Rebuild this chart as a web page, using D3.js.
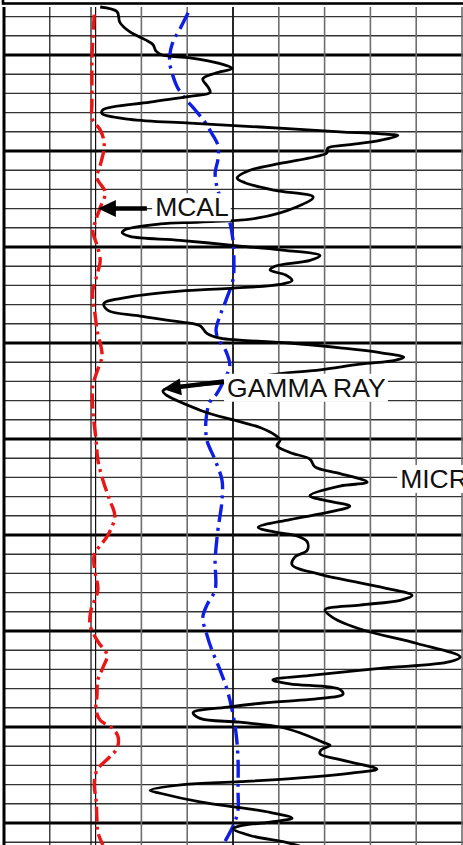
<!DOCTYPE html>
<html>
<head>
<meta charset="utf-8">
<script src="https://cdn.jsdelivr.net/npm/d3@7"></script>
<style>
  html, body { margin: 0; padding: 0; background: #fff; overflow: hidden; }
  svg { display: block; }
</style>
</head>
<body>
<div id="d3-container"></div>
<script>
const width = 463,
  height = 845;

/* DATA (depth in ft, curve value in % of track width) */
const microDepth = [4995.0, 4995.5, 4996.6, 4997.6, 4998.4, 4998.9, 4999.6, 5000.0, 5000.3, 5000.9,
  5001.4, 5001.9, 5002.5, 5003.3, 5003.9, 5004.3, 5004.9, 5005.7, 5006.1, 5006.7,
  5007.1, 5007.5, 5008.0, 5008.2, 5008.4, 5008.9, 5009.4, 5009.7, 5010.2, 5010.6,
  5011.3, 5012.0, 5012.8, 5013.3, 5014.1, 5014.8, 5015.8, 5017.0, 5017.4, 5017.6,
  5018.2, 5018.5, 5018.9, 5019.3, 5019.9, 5020.3, 5020.9, 5021.4, 5022.0, 5022.4,
  5022.9, 5023.5, 5023.9, 5024.3, 5024.6, 5025.2, 5025.9, 5026.6, 5027.2, 5027.8,
  5028.2, 5029.0, 5029.5, 5029.7, 5030.0, 5030.5, 5031.0, 5031.5, 5031.8, 5032.2,
  5032.8, 5033.2, 5034.1, 5035.0, 5037.0, 5038.2, 5038.8, 5039.6, 5040.1, 5040.7,
  5041.4, 5042.1, 5042.9, 5043.6, 5044.5, 5044.9, 5045.9, 5046.5, 5047.0, 5047.6,
  5048.4, 5049.2, 5049.7, 5050.1, 5050.7, 5051.6, 5052.3, 5053.1, 5054.1, 5055.2,
  5056.3, 5056.8, 5057.3, 5057.8, 5058.6, 5059.9, 5061.3, 5062.7, 5063.2, 5063.9,
  5064.6, 5065.1, 5065.5, 5066.1, 5066.6, 5067.0, 5067.5, 5067.9, 5068.5, 5069.1,
  5069.5, 5070.0, 5070.6, 5071.6, 5071.9, 5072.4, 5072.8, 5073.4, 5074.4, 5074.7,
  5075.3, 5075.7, 5076.0, 5076.6, 5076.9, 5077.8, 5078.4, 5078.9, 5079.5, 5079.9,
  5080.3, 5080.6, 5081.3, 5082.0, 5082.4];
const microValues = [21.0, 24.7, 25.3, 27.5, 30.8, 32.5, 33.2, 34.5, 40.6, 47.2,
  49.8, 46.1, 43.4, 44.5, 45.0, 40.6, 31.9, 21.6, 21.4, 27.5,
  40.6, 55.9, 73.4, 81.7, 86.0, 82.1, 74.5, 70.7, 70.5, 67.9,
  60.3, 53.7, 50.9, 52.6, 59.2, 67.5, 64.0, 55.2, 42.8, 34.1,
  26.4, 25.8, 27.5, 38.4, 51.5, 60.3, 69.0, 66.8, 59.2, 58.1,
  61.4, 62.9, 60.3, 49.3, 38.4, 27.5, 21.8, 22.7, 29.7, 38.4,
  42.8, 44.3, 47.2, 51.5, 62.4, 73.4, 82.1, 87.3, 85.4, 77.7,
  69.0, 60.3, 48.5, 34.7, 42.8, 51.5, 55.9, 59.2, 60.3, 59.6,
  62.4, 66.8, 67.9, 73.4, 79.3, 73.4, 66.8, 71.2, 75.5, 71.2,
  62.4, 55.5, 59.2, 64.0, 66.2, 66.2, 63.5, 62.9, 69.0, 79.9,
  89.1, 86.5, 77.7, 70.1, 71.8, 78.4, 90.2, 99.6, 97.4, 82.1,
  67.5, 58.7, 62.4, 73.4, 74.0, 69.7, 56.6, 49.3, 41.3, 42.8,
  51.5, 60.3, 64.6, 69.7, 71.2, 69.2, 69.0, 73.4, 81.4, 77.7,
  64.6, 51.5, 39.1, 31.9, 34.1, 42.8, 51.5, 58.1, 62.9, 58.1,
  51.5, 50.0, 53.7, 61.4, 64.6];

const gammaDepth = [4995.6, 4997.3, 4998.6, 5000.0, 5000.9, 5002.2, 5003.3, 5004.5, 5005.7, 5007.0,
  5008.2, 5009.4, 5010.9, 5012.3, 5014.1, 5015.6, 5017.4, 5019.3, 5021.4, 5023.4,
  5025.5, 5027.1, 5028.6, 5029.5, 5030.9, 5032.4, 5033.9, 5035.4, 5036.1, 5038.0,
  5040.1, 5042.2, 5044.3, 5046.4, 5047.9, 5049.5, 5052.6, 5055.7, 5057.3, 5058.6,
  5060.4, 5062.0, 5064.1, 5066.1, 5068.2, 5070.8, 5073.4, 5076.6, 5078.6, 5079.9,
  5081.0, 5082.3];
const gammaValues = [40.2, 38.4, 36.9, 36.2, 36.2, 36.9, 37.8, 39.5, 41.7, 43.9,
  45.4, 46.7, 46.7, 46.1, 46.7, 48.0, 49.3, 50.0, 50.2, 50.0,
  48.5, 47.2, 46.3, 46.7, 48.5, 49.3, 48.0, 46.3, 45.0, 44.1,
  44.3, 46.1, 47.6, 47.6, 47.2, 46.7, 46.1, 46.1, 44.3, 43.4,
  44.3, 45.4, 47.2, 48.7, 49.8, 50.7, 51.1, 51.1, 51.1, 50.4,
  49.3, 47.8];

const mcalDepth = [4995.8, 4998.4, 5000.5, 5002.6, 5005.2, 5006.6, 5007.8, 5008.9, 5009.9, 5011.5,
  5012.8, 5014.3, 5015.9, 5017.4, 5018.4, 5019.8, 5021.4, 5022.9, 5024.5, 5025.5,
  5027.1, 5028.6, 5031.3, 5033.0, 5034.4, 5037.0, 5040.1, 5042.2, 5044.3, 5046.4,
  5048.0, 5050.0, 5052.1, 5053.9, 5055.7, 5057.8, 5059.4, 5061.1, 5062.5, 5063.8,
  5065.1, 5066.7, 5068.2, 5069.3, 5070.1, 5071.0, 5072.2, 5073.1, 5074.5, 5076.0,
  5077.6, 5079.7, 5081.0, 5082.3];
const mcalValues = [19.7, 19.4, 19.2, 19.2, 19.2, 19.2, 21.0, 21.8, 21.8, 21.0,
  20.3, 22.1, 21.0, 19.9, 19.4, 20.3, 21.0, 20.3, 19.4, 19.4,
  19.9, 20.3, 21.4, 20.3, 19.4, 19.4, 20.1, 20.5, 21.6, 23.1,
  24.2, 22.7, 19.7, 19.9, 20.5, 19.0, 18.8, 20.5, 22.5, 21.6,
  20.5, 20.3, 20.1, 21.0, 23.6, 24.9, 24.7, 23.1, 20.3, 19.7,
  20.1, 20.3, 20.5, 21.6];

/* curve labels: name, text anchor (value, depth), arrow tail and tip */
const labelNames = ["MCAL", "GAMMA RAY", "MICR"];
const labelValue = [33.0, 48.7, 86.5];
const labelDepth = [5016.8, 5035.6, 5045.1];
const arrowFrom = [[31.2, 5016.0], [48.0, 5034.0], null];
const arrowTo = [[20.5, 5016.0], [34.7, 5034.8], null];

/* SCALES */
const xScale = d3.scaleLinear().domain([0, 100]).range([4, 462]);
const yScale = d3.scaleLinear().domain([4994, 5082]).range([-2.6, 842.2]);

const svg = d3
  .select("#d3-container")
  .append("svg")
  .attr("width", width)
  .attr("height", height);

// header box edge at the top
svg
  .append("rect")
  .attr("x", 3)
  .attr("y", -10)
  .attr("width", width + 10)
  .attr("height", 13.5)
  .attr("fill", "none")
  .attr("stroke", "#000")
  .attr("stroke-width", 2.6);

/* GRID */
const gridTop = yScale(4995);
const grid = svg.append("g").attr("class", "grid");

const hLines = d3.range(4996, 5083, 2);
grid
  .selectAll(".h-line")
  .data(hLines)
  .join("line")
  .attr("class", "h-line")
  .attr("x1", xScale(0))
  .attr("x2", width)
  .attr("y1", d => yScale(d))
  .attr("y2", d => yScale(d))
  .attr("stroke", d => (d % 10 === 0 ? "#000" : "#333"))
  .attr("stroke-width", d => (d % 10 === 0 ? 3 : 1.4));

const vLines = d3.range(10, 101, 10).concat([19]);
grid
  .selectAll(".v-line")
  .data(vLines)
  .join("line")
  .attr("class", "v-line")
  .attr("x1", d => xScale(d))
  .attr("x2", d => xScale(d))
  .attr("y1", gridTop)
  .attr("y2", height)
  .attr("stroke", d => (d <= 20 || d === 50 ? "#111" : "#6e6e6e"))
  .attr("stroke-width", d => (d === 50 ? 1.8 : d <= 20 ? 1.2 : 1.6));

// left border of track
grid
  .append("line")
  .attr("x1", xScale(0))
  .attr("x2", xScale(0))
  .attr("y1", gridTop)
  .attr("y2", height)
  .attr("stroke", "#000")
  .attr("stroke-width", 3);

/* CURVES */
const line = d3
  .line()
  .x(d => xScale(d[1]))
  .y(d => yScale(d[0]))
  .curve(d3.curveCatmullRom.alpha(0.5));

const curves = [
  { name: "MCAL", depth: mcalDepth, values: mcalValues, color: "#ea1515", width: 3.4, dash: "15,5,3,5" },
  { name: "GAMMA RAY", depth: gammaDepth, values: gammaValues, color: "#0f1ee6", width: 3.4, dash: "18,6,3,6" },
  { name: "MICRO", depth: microDepth, values: microValues, color: "#000", width: 2.8, dash: null }
];

svg
  .selectAll(".curve")
  .data(curves)
  .join("path")
  .attr("class", "curve")
  .attr("d", c => line(d3.zip(c.depth, c.values)))
  .attr("fill", "none")
  .attr("stroke", c => c.color)
  .attr("stroke-width", c => c.width)
  .attr("stroke-dasharray", c => c.dash)
  .attr("stroke-linejoin", "round");

/* LABELS */
labelNames.forEach((name, i) => {
  const g = svg.append("g").attr("class", "label");
  const rect = g.append("rect").attr("fill", "#fff");
  const text = g
    .append("text")
    .attr("x", xScale(labelValue[i]))
    .attr("y", yScale(labelDepth[i]))
    .attr("font-family", "'Liberation Sans', Arial, sans-serif")
    .attr("font-size", 26.5)
    .attr("fill", "#111")
    .text(name);
  const bb = text.node().getBBox();
  rect
    .attr("x", bb.x - 3)
    .attr("y", bb.y + 1)
    .attr("width", bb.width + 5)
    .attr("height", bb.height - 2);

  if (arrowFrom[i]) {
    const x1 = xScale(arrowFrom[i][0]),
      y1 = yScale(arrowFrom[i][1]),
      x2 = xScale(arrowTo[i][0]),
      y2 = yScale(arrowTo[i][1]);
    const ang = Math.atan2(y2 - y1, x2 - x1);
    const headLen = 18,
      headW = 8.5;
    const bx = x2 - headLen * Math.cos(ang),
      by = y2 - headLen * Math.sin(ang);
    g.append("line")
      .attr("x1", x1)
      .attr("y1", y1)
      .attr("x2", bx + 2 * Math.cos(ang))
      .attr("y2", by + 2 * Math.sin(ang))
      .attr("stroke", "#000")
      .attr("stroke-width", 4.5);
    g.append("path")
      .attr(
        "d",
        `M${x2},${y2}L${bx + headW * Math.sin(ang)},${by - headW * Math.cos(ang)}` +
          `L${bx - headW * Math.sin(ang)},${by + headW * Math.cos(ang)}Z`
      )
      .attr("fill", "#000");
  }
});
</script>
</body>
</html>
